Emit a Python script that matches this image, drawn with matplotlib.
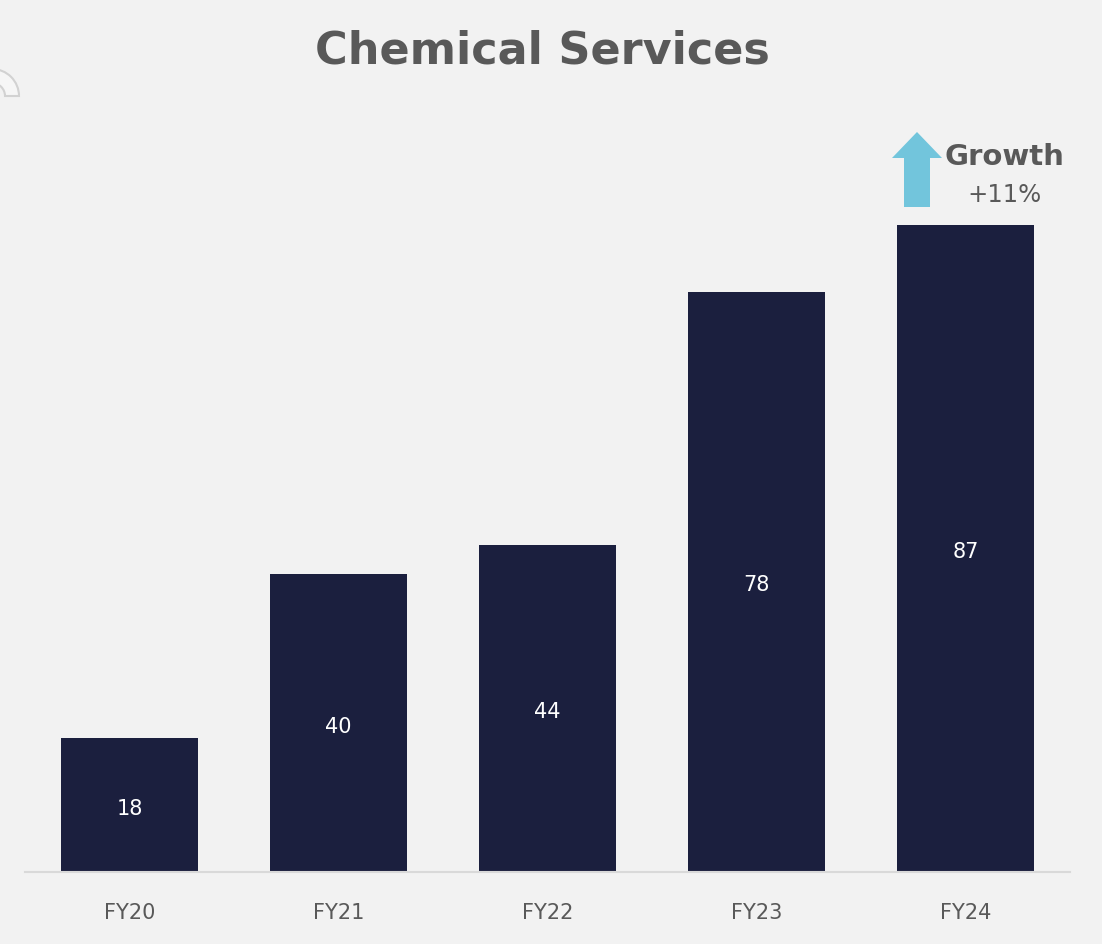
import matplotlib
matplotlib.use("Agg")
import matplotlib.pyplot as plt
from matplotlib.patches import FancyArrow, Wedge

categories = ["FY20", "FY21", "FY22", "FY23", "FY24"]
values = [18, 40, 44, 78, 87]
title = "Chemical Services"
growth_label = "Growth"
growth_value = "+11%"

BG = "#f2f2f2"
BAR = "#1b1f3e"
GRAY = "#595959"
ARROW = "#72c5dc"

plt.rcParams['font.family'] = ['DejaVu Sans']

fig = plt.figure(figsize=(11.02, 9.44), dpi=100, facecolor=BG)
ax = fig.add_axes([25/1102, 72/944, 1045/1102, 744/944])
ax.set_facecolor(BG)

x = list(range(len(categories)))
bars = ax.bar(x, values, width=0.66, color=BAR, zorder=2)
for xi, v in zip(x, values):
    ax.annotate(str(v), (xi, v / 2), xytext=(0, -2.5), textcoords="offset points",
                ha="center", va="center", color="white", fontsize=15)

ax.set_xlim(-0.5, 4.5)
ax.set_ylim(0, 100)
ax.set_xticks(x)
ax.set_xticklabels(categories, fontsize=15, color=GRAY)
ax.tick_params(axis="x", length=0, pad=22)
ax.set_yticks([])
for s in ["top", "right", "left"]:
    ax.spines[s].set_visible(False)
ax.spines["bottom"].set_color("#d9d9d9")
ax.spines["bottom"].set_linewidth(1.5)

fig.text(542/1102, 1 - 51/944, title, ha="center", va="center",
         fontsize=32, fontweight="bold", color=GRAY)

# growth arrow + text
arr = FancyArrow(9.17, (944 - 207) / 100, 0, 0.75, width=0.26, head_width=0.5,
                 head_length=0.26, length_includes_head=True, color=ARROW,
                 transform=fig.dpi_scale_trans, lw=0)
fig.patches.append(arr)
fig.text(1004/1102, 1 - 157/944, growth_label, ha="center", va="center",
         fontsize=21, fontweight="bold", color=GRAY)
fig.text(1004/1102, 1 - 195/944, growth_value, ha="center", va="center",
         fontsize=17.5, color=GRAY)

# partial logo arc at top-left
w = Wedge((-0.08, (944 - 96) / 100), 0.27, 0, 90, width=0.14, facecolor="#f6f6f6",
          edgecolor="#d2d2d2", lw=1.5, transform=fig.dpi_scale_trans)
fig.patches.append(w)

fig.savefig("out.png", dpi=100, facecolor=BG)
